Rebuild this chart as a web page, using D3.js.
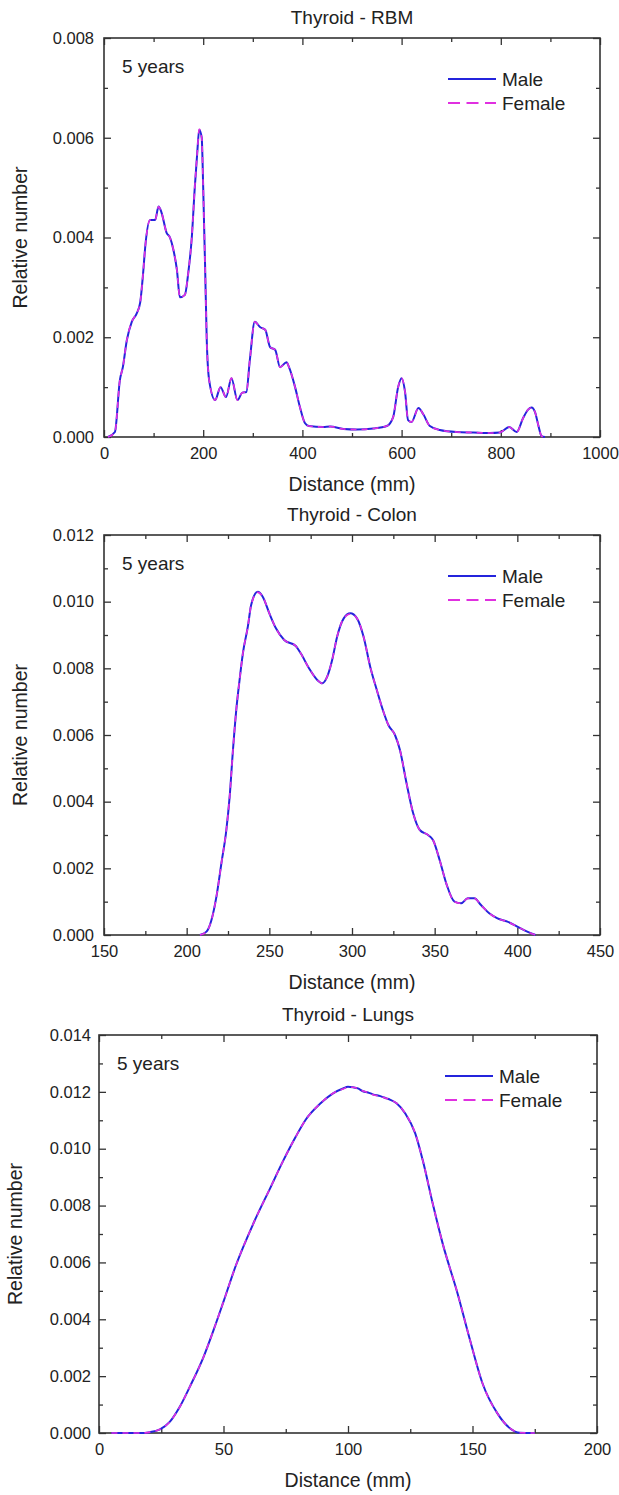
<!DOCTYPE html>
<html><head><meta charset="utf-8">
<script src="https://cdn.jsdelivr.net/npm/d3@7"></script>
<style>
html,body{margin:0;padding:0;background:#fff;}
text{font-family:"Liberation Sans",Arial,sans-serif;fill:#222;}
</style></head>
<body>
<svg id="chart" width="619" height="1495"></svg>
<script>
// ---------- DATA ----------
const rbmX = [8,22,32,38,46,56,66,73,79,83,93,103,110,116,126,133,140,147,153,163,170,177,183,188,192,197,200,204,207,212,224,235,246,257,269,279,287,294,304,315,325,335,345,355,368,373,385,395,405,413,442,456,483,510,543,570,583,593,600,607,613,620,634,644,657,677,711,745,778,798,817,832,845,855,862,869,876,882,889];
const rbmMale = [0,0.0001,0.00114,0.0014,0.00194,0.00231,0.00248,0.0027,0.0033,0.0038,0.00435,0.00435,0.00462,0.0045,0.0041,0.0040,0.00375,0.00335,0.0028,0.00285,0.0033,0.0040,0.0050,0.0057,0.00616,0.0060,0.0050,0.00335,0.0020,0.00114,0.00074,0.0010,0.0008,0.00118,0.00074,0.00089,0.0009,0.00154,0.00231,0.0022,0.00215,0.0018,0.00175,0.0014,0.0015,0.0014,0.00101,0.0006,0.00028,0.00022,0.0002,0.00021,0.00016,0.00015,0.00017,0.00022,0.0004,0.001,0.00118,0.0009,0.00034,0.0003,0.00058,0.00045,0.00022,0.00014,0.0001,0.00009,0.00008,0.00009,0.0002,0.0001,0.00038,0.00055,0.00059,0.0005,0.00022,0.00002,0];
const rbmFemale = [0,0.0001,0.00114,0.0014,0.00194,0.00231,0.00248,0.0027,0.0033,0.0038,0.00435,0.00435,0.00462,0.0045,0.0041,0.0040,0.00375,0.00335,0.0028,0.00285,0.0033,0.0040,0.0050,0.0057,0.00617,0.0060,0.0050,0.00335,0.0020,0.00114,0.00074,0.0010,0.0008,0.00118,0.00074,0.00089,0.0009,0.00154,0.00231,0.0022,0.00215,0.0018,0.00175,0.0014,0.0015,0.0014,0.00101,0.0006,0.00028,0.00022,0.0002,0.00021,0.00016,0.00015,0.00017,0.00022,0.0004,0.001,0.00118,0.0009,0.00034,0.0003,0.00058,0.00045,0.00022,0.00014,0.0001,0.00009,0.00008,0.00009,0.0002,0.0001,0.00038,0.00055,0.00059,0.0005,0.00022,0.00002,0];

const colonX = [208,212,215,218,221,224,226,228,230,232,234,237,239,243,246,250,254,259,266,269,274,279,282,285,288,291,295,299,303,307,311,315,319,322,326,329,333,337,341,346,349,353,357,362,366,370,374,378,383,388,394,400,406,411];
const colonMale = [0,0.0001,0.00045,0.00115,0.00215,0.00315,0.00415,0.00555,0.00675,0.00765,0.00845,0.00925,0.0099,0.0103,0.01015,0.00965,0.0092,0.00885,0.00867,0.00845,0.0080,0.00765,0.00755,0.00775,0.00825,0.00895,0.0095,0.00965,0.0095,0.00895,0.00805,0.00735,0.0067,0.0063,0.006,0.00555,0.00455,0.00365,0.00315,0.003,0.00285,0.00225,0.00155,0.001,0.00095,0.0011,0.0011,0.0009,0.00065,0.0005,0.0004,0.00025,0.0001,0];
const colonFemale = [0,0.0001,0.00045,0.00115,0.00215,0.00315,0.00415,0.00555,0.00675,0.00765,0.00845,0.00925,0.0099,0.01028,0.01015,0.00965,0.0092,0.00885,0.00867,0.00845,0.0080,0.00765,0.00755,0.00775,0.00825,0.00895,0.0095,0.00963,0.0095,0.00895,0.00805,0.00735,0.0067,0.0063,0.006,0.00555,0.00455,0.00365,0.00315,0.003,0.00285,0.00225,0.00155,0.001,0.00095,0.0011,0.0011,0.0009,0.00065,0.0005,0.0004,0.00025,0.0001,0];

const lungsX = [5,16.5,20.5,24.5,28.5,32.5,36.5,42,46,50,55,62,69,74,79,83,89,94,98,100,102,104,106,108,110,113,115.5,117,119.5,123,127,130,134,138,144,149,154,160,165,169,175];
const lungsMale = [0,0,0.00003,0.00013,0.0004,0.00093,0.00163,0.00268,0.00362,0.00462,0.0059,0.00737,0.00866,0.00958,0.01042,0.01102,0.0116,0.01195,0.01212,0.01218,0.01216,0.01212,0.01202,0.01198,0.01191,0.01185,0.01177,0.01172,0.0116,0.01124,0.01054,0.0096,0.00808,0.00667,0.00491,0.00327,0.00175,0.00069,0.00017,0.00001,0];
const lungsFemale = [0,0,0.00003,0.00013,0.0004,0.00093,0.00163,0.00268,0.00362,0.00462,0.0059,0.00737,0.00866,0.00958,0.01042,0.01102,0.0116,0.01195,0.0121,0.01216,0.01216,0.01211,0.01203,0.01198,0.0119,0.01184,0.01177,0.01172,0.0116,0.01124,0.01054,0.0096,0.00808,0.00667,0.00491,0.00327,0.00175,0.00069,0.00017,0.00001,0];

const rbmXMajor = [0,200,400,600,800,1000];
const rbmXMinor = [100,300,500,700,900];
const rbmYMajor = [0,0.002,0.004,0.006,0.008];
const rbmYMinor = [0.001,0.003,0.005,0.007];

const colonXMajor = [150,200,250,300,350,400,450];
const colonXMinor = [175,225,275,325,375,425];
const colonYMajor = [0,0.002,0.004,0.006,0.008,0.010,0.012];
const colonYMinor = [0.001,0.003,0.005,0.007,0.009,0.011];

const lungsXMajor = [0,50,100,150,200];
const lungsXMinor = [25,75,125,175];
const lungsYMajor = [0,0.002,0.004,0.006,0.008,0.010,0.012,0.014];
const lungsYMinor = [0.001,0.003,0.005,0.007,0.009,0.011,0.013];

const seriesNames = ["Male","Female"];
const panelTitles = ["Thyroid - RBM","Thyroid - Colon","Thyroid - Lungs"];
const ageLabel = "5 years";
const xTitle = "Distance (mm)";
const yTitle = "Relative number";

// ---------- DRAW ----------
const svg = d3.select("#chart");
const MALE = "#2424dc", FEMALE = "#e030e0", AX = "#333";
const FONT = '"Liberation Sans",Arial,sans-serif';

function panel(c){
  const g = svg.append("g");
  const x = d3.scaleLinear().domain(c.xDomain).range([c.left, c.right]);
  const y = d3.scaleLinear().domain(c.yDomain).range([c.bottom, c.top]);

  const style = sel => {
    sel.select(".domain").remove();
    sel.selectAll("line").attr("stroke", AX).attr("stroke-width", 1.3);
    sel.selectAll("text").attr("font-size", 16.5).attr("fill", "#222").attr("font-family", FONT);
  };
  // bottom
  g.append("g").attr("transform",`translate(0,${c.bottom})`)
    .call(d3.axisBottom(x).tickValues(c.xMajor).tickSizeInner(-7).tickSizeOuter(0).tickPadding(10).tickFormat(d3.format("d"))).call(style);
  g.append("g").attr("transform",`translate(0,${c.bottom})`)
    .call(d3.axisBottom(x).tickValues(c.xMinor).tickSizeInner(-4).tickSizeOuter(0).tickFormat("")).call(style);
  // top
  g.append("g").attr("transform",`translate(0,${c.top})`)
    .call(d3.axisTop(x).tickValues(c.xMajor).tickSizeInner(-7).tickSizeOuter(0).tickFormat("")).call(style);
  g.append("g").attr("transform",`translate(0,${c.top})`)
    .call(d3.axisTop(x).tickValues(c.xMinor).tickSizeInner(-4).tickSizeOuter(0).tickFormat("")).call(style);
  // left
  g.append("g").attr("transform",`translate(${c.left},0)`)
    .call(d3.axisLeft(y).tickValues(c.yMajor).tickSizeInner(-7).tickSizeOuter(0).tickPadding(c.yPad).tickFormat(d3.format(".3f"))).call(style);
  g.append("g").attr("transform",`translate(${c.left},0)`)
    .call(d3.axisLeft(y).tickValues(c.yMinor).tickSizeInner(-4).tickSizeOuter(0).tickFormat("")).call(style);
  // right
  g.append("g").attr("transform",`translate(${c.right},0)`)
    .call(d3.axisRight(y).tickValues(c.yMajor).tickSizeInner(-7).tickSizeOuter(0).tickFormat("")).call(style);
  g.append("g").attr("transform",`translate(${c.right},0)`)
    .call(d3.axisRight(y).tickValues(c.yMinor).tickSizeInner(-4).tickSizeOuter(0).tickFormat("")).call(style);

  // frame
  g.append("rect").attr("x",c.left).attr("y",c.top)
    .attr("width",c.right-c.left).attr("height",c.bottom-c.top)
    .attr("fill","none").attr("stroke",AX).attr("stroke-width",1.6);

  // lines
  const mk = ys => c.xs.map((v,i)=>[v, ys[i]]);
  const line = d3.line().x(d=>x(d[0])).y(d=>y(d[1])).curve(d3.curveMonotoneX);
  g.append("path").datum(mk(c.male)).attr("d",line).attr("fill","none")
    .attr("stroke",MALE).attr("stroke-width",2).attr("stroke-linejoin","round");
  g.append("path").datum(mk(c.female)).attr("d",line).attr("fill","none")
    .attr("stroke",FEMALE).attr("stroke-width",1.6).attr("stroke-dasharray","6,5");

  // title
  g.append("text").attr("x",(c.left+c.right)/2).attr("y",c.top-14)
    .attr("text-anchor","middle").attr("font-size",19).text(c.title);
  // axis titles
  g.append("text").attr("x",(c.left+c.right)/2).attr("y",c.bottom+54)
    .attr("text-anchor","middle").attr("font-size",19.5).text(xTitle);
  g.append("text").attr("transform",`translate(${c.yTitleX},${(c.top+c.bottom)/2}) rotate(-90)`)
    .attr("text-anchor","middle").attr("font-size",19.5).text(yTitle);
  // age label
  g.append("text").attr("x",c.left+18).attr("y",c.top+35).attr("font-size",19).text(ageLabel);
  // legend
  const lx = c.right-152, ly = c.top+41;
  g.append("line").attr("x1",lx).attr("x2",lx+48).attr("y1",ly).attr("y2",ly)
    .attr("stroke",MALE).attr("stroke-width",2);
  g.append("text").attr("x",lx+54).attr("y",ly+7).attr("font-size",19).text(seriesNames[0]);
  g.append("line").attr("x1",lx).attr("x2",lx+48).attr("y1",ly+24).attr("y2",ly+24)
    .attr("stroke",FEMALE).attr("stroke-width",2).attr("stroke-dasharray","12,6.5");
  g.append("text").attr("x",lx+54).attr("y",ly+31).attr("font-size",19).text(seriesNames[1]);
}

panel({title:panelTitles[0], left:104, right:600, top:38, bottom:437, yTitleX:27, yPad:10,
  xDomain:[0,1000], yDomain:[0,0.008], xMajor:rbmXMajor, xMinor:rbmXMinor, yMajor:rbmYMajor, yMinor:rbmYMinor,
  xs:rbmX, male:rbmMale, female:rbmFemale});
panel({title:panelTitles[1], left:104, right:600, top:535, bottom:935, yTitleX:27, yPad:10,
  xDomain:[150,450], yDomain:[0,0.012], xMajor:colonXMajor, xMinor:colonXMinor, yMajor:colonYMajor, yMinor:colonYMinor,
  xs:colonX, male:colonMale, female:colonFemale});
panel({title:panelTitles[2], left:99, right:597, top:1035, bottom:1433, yTitleX:22, yPad:8,
  xDomain:[0,200], yDomain:[0,0.014], xMajor:lungsXMajor, xMinor:lungsXMinor, yMajor:lungsYMajor, yMinor:lungsYMinor,
  xs:lungsX, male:lungsMale, female:lungsFemale});
</script>
</body></html>
